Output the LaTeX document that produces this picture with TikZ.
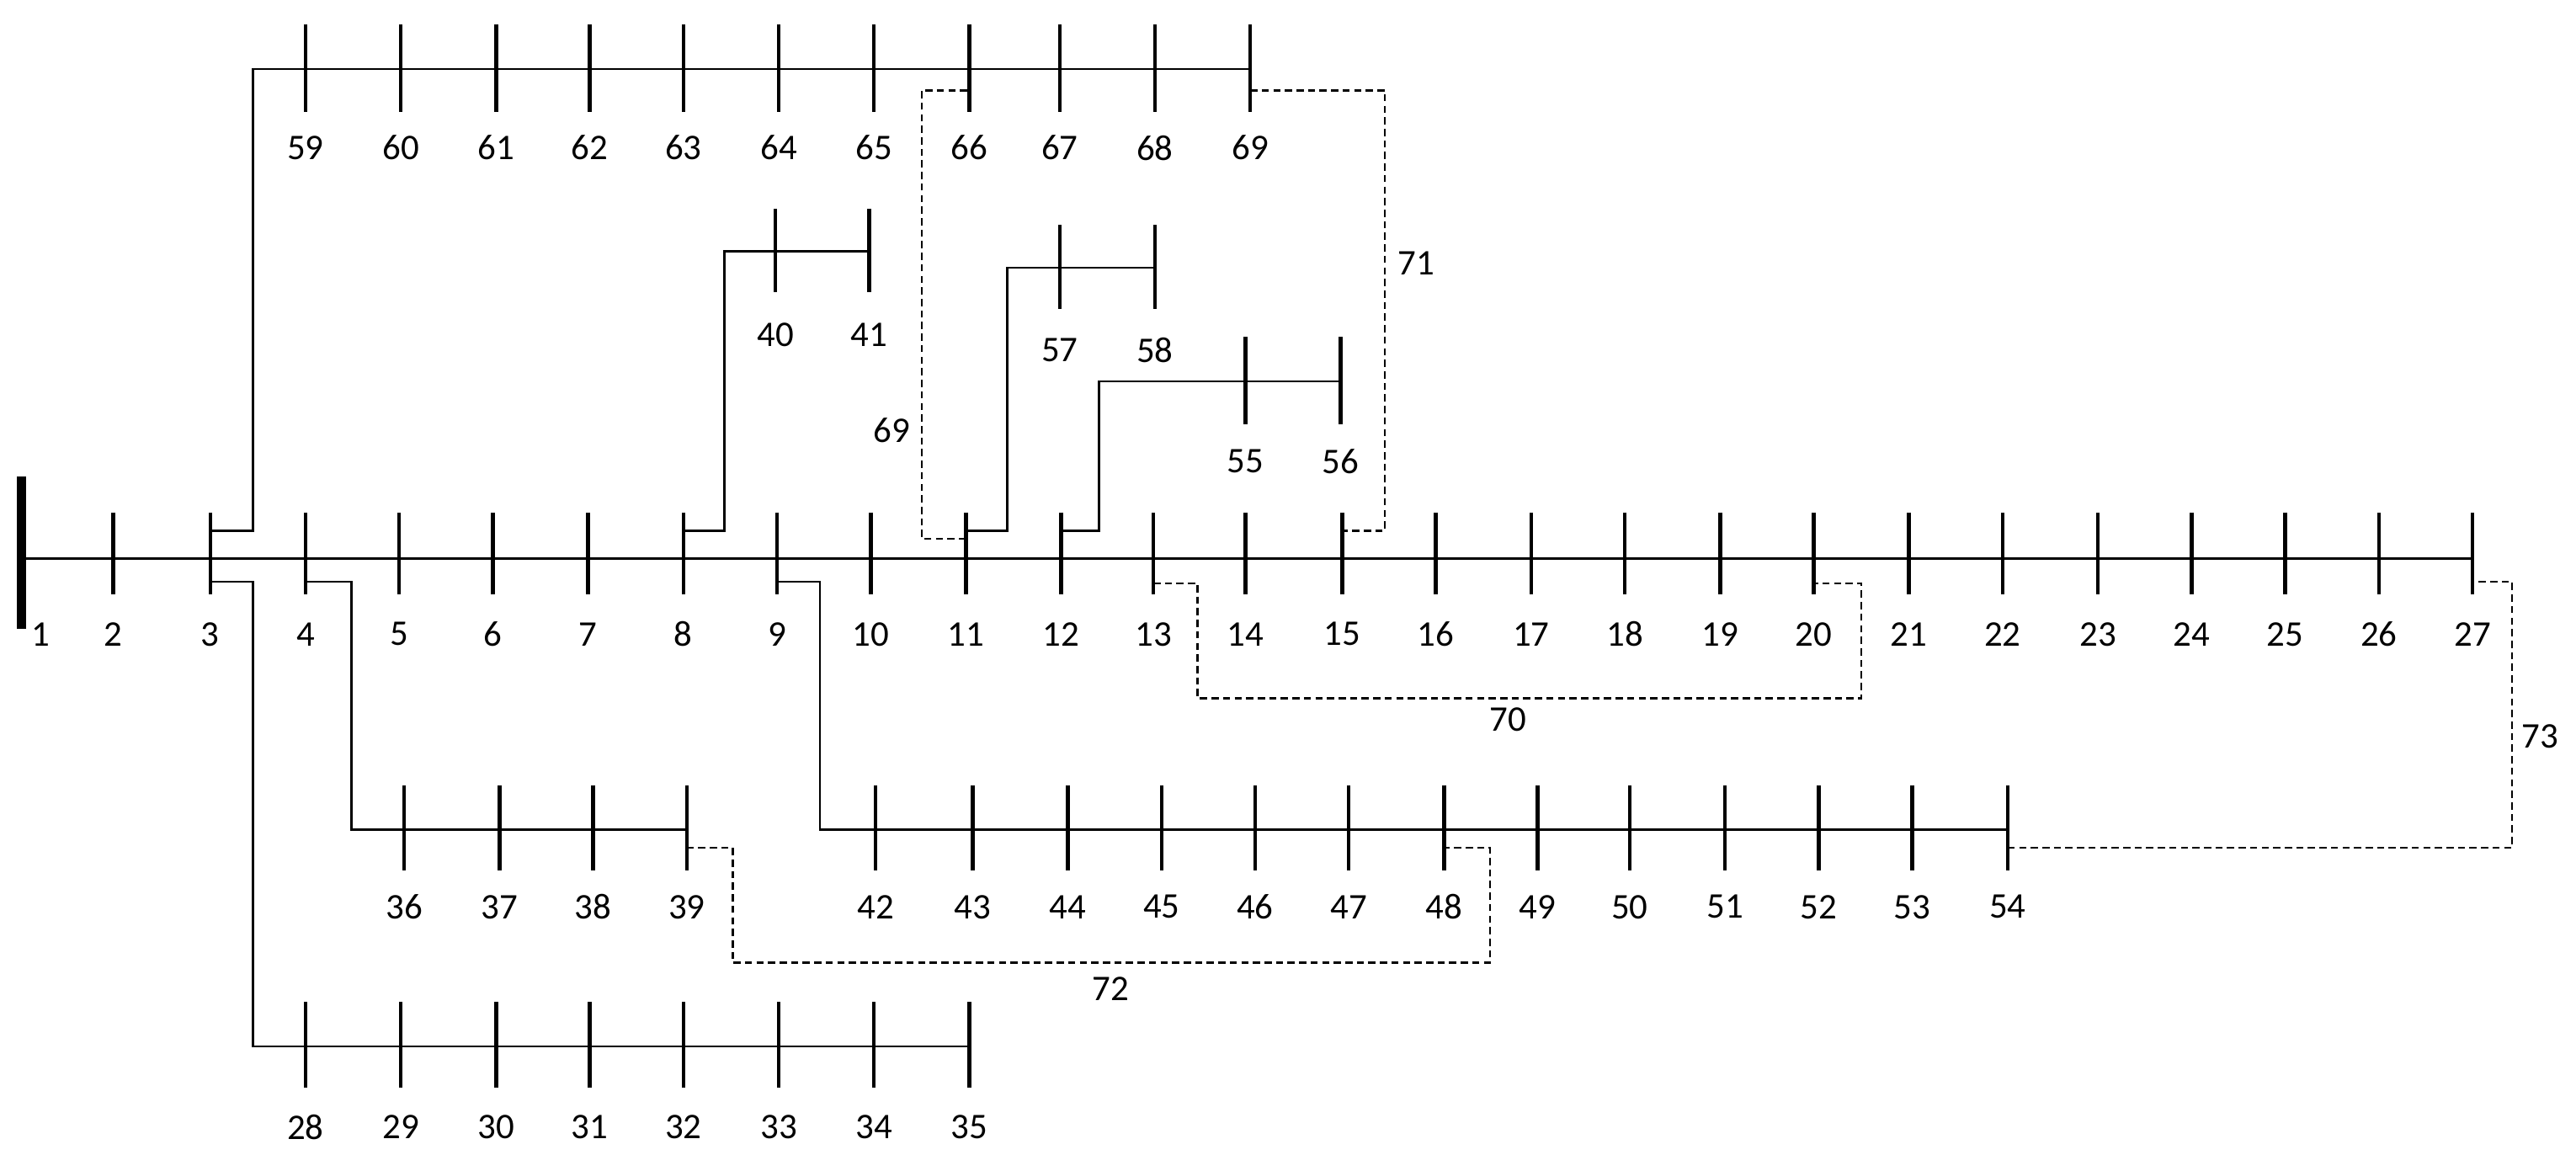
\documentclass[tikz,border=0pt]{standalone}
\usepackage{fontspec}
\setmainfont{Carlito}
\begin{document}
\begin{tikzpicture}[x=0.02cm,y=-0.02cm,
  feeder/.style={line width=0.7pt},
  tick/.style={line width=1.3pt},
  tie/.style={line width=0.7pt,dashed,dash pattern=on 2.5pt off 1.5pt},
  lab/.style={font=\fontsize{12.5}{14}\selectfont,inner sep=0pt}]
\useasboundingbox (0,0) rectangle (1568,703);
% main feeder
\draw[line width=3pt] (13,290) -- (13,383);
\node[lab] (l1) at (25,386) {1};
\foreach \n/\x in {2/69,3/128,4/186,5/243,6/300,7/358,8/416,9/473,10/530,11/588,12/646,13/702,14/758,15/817,16/874,17/932,18/989,19/1047,20/1104,21/1162,22/1219,23/1277,24/1334,25/1391,26/1448,27/1505}{
  \coordinate (b\n) at (\x,340);
  \draw[tick] (\x,312) -- (\x,362);
  \node[lab] (l\n) at (\x,386) {\n};
}
\draw[feeder] (13,340) -- (b27);
% generic lateral helper
\def\lateral#1#2#3#4{% list, ytick-top, ytick-bottom, ylabel
  \foreach \n/\x in {#1}{
    \coordinate (b\n) at (\x,{(#2+#3)/2});
    \draw[tick] (\x,#2) -- (\x,#3);
    \node[lab] (l\n) at (\x,#4) {\n};
  }}
\lateral{59/186,60/244,61/302,62/359,63/416,64/474,65/532,66/590,67/645,68/703,69/761}{15}{68}{90}
\draw[feeder] (128,323) -- (154,323) -- (154,42) -- (761,42);
\lateral{40/472,41/529}{127}{178}{204}
\draw[feeder] (416,323) -- (441,323) -- (441,153) -- (529,153);
\lateral{57/645,58/703}{137}{188}{213}
\draw[feeder] (588,323) -- (613,323) -- (613,163) -- (703,163);
\lateral{55/758,56/816}{205}{258}{281}
\draw[feeder] (646,323) -- (669,323) -- (669,232) -- (816,232);
\lateral{28/186,29/244,30/302,31/359,32/416,33/474,34/532,35/590}{610}{662}{686}
\draw[feeder] (128,354) -- (154,354) -- (154,637) -- (590,637);
\lateral{36/246,37/304,38/361,39/418}{478}{530}{552}
\draw[feeder] (186,354) -- (214,354) -- (214,505) -- (418,505);
\lateral{42/533,43/592,44/650,45/707,46/764,47/821,48/879,49/936,50/992,51/1050,52/1107,53/1164,54/1222}{478}{530}{552}
\draw[feeder] (473,354) -- (499,354) -- (499,505) -- (1222,505);
% tie lines
\draw[tie] (588,328) -- (561,328) -- (561,55) -- (590,55);
\node[lab] (t69) at (543,262) {69};
\draw[tie] (761,55) -- (843,55) -- (843,323) -- (817,323);
\node[lab] (t71) at (862,160) {71};
\draw[tie] (702,355) -- (729,355) -- (729,425) -- (1133,425) -- (1133,355) -- (1104,355);
\node[lab] (t70) at (918,438) {70};
\draw[tie] (418,516) -- (446,516) -- (446,586) -- (907,586) -- (907,516) -- (879,516);
\node[lab] (t72) at (676,602) {72};
\draw[tie] (1222,516) -- (1529,516) -- (1529,354) -- (1505,354);
\node[lab] (t73) at (1546,448) {73};
\end{tikzpicture}
\end{document}
